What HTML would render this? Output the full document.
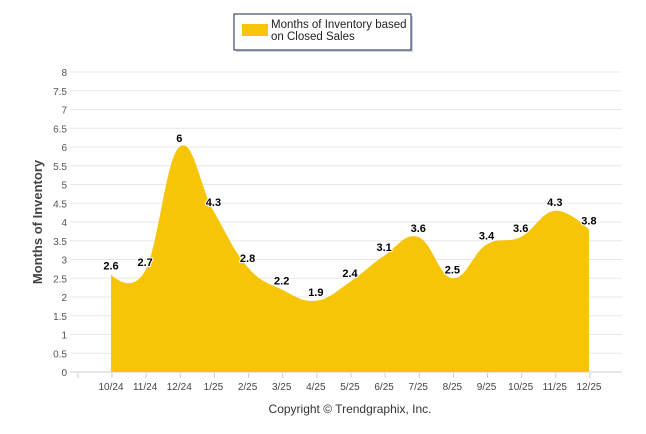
<!DOCTYPE html>
<html><head><meta charset="utf-8"><style>
body{margin:0;background:#fff;}
svg{display:block;font-family:"Liberation Sans",sans-serif;}
</style></head><body>
<svg width="646" height="434" id="chart">
<g>
<rect x="236" y="16" width="177" height="36" fill="#9aa" opacity="0.5"/>
<rect x="234" y="14" width="177" height="36" fill="#fff" stroke="#1c2a5a" stroke-width="1"/>
<rect x="242" y="24" width="26" height="12" fill="#f7c508"/>
<text x="271" y="28" font-size="11.5" fill="#222">Months of Inventory based</text>
<text x="271" y="40" font-size="11.5" fill="#222">on Closed Sales</text>
</g>
<g id="grid"></g>
<g id="area"></g>
<g id="xaxis"></g>
<g id="labels"></g>
<text transform="translate(42,222) rotate(-90)" text-anchor="middle" font-size="13" font-weight="bold" fill="#444">Months of Inventory</text>
<text x="350" y="413" text-anchor="middle" font-size="12" fill="#333">Copyright © Trendgraphix, Inc.</text>
</svg>
<script>
const categories=["10/24","11/24","12/24","1/25","2/25","3/25","4/25","5/25","6/25","7/25","8/25","9/25","10/25","11/25","12/25"];
const values=[2.6,2.7,6,4.3,2.8,2.2,1.9,2.4,3.1,3.6,2.5,3.4,3.6,4.3,3.8];
const yTicks=[0,0.5,1,1.5,2,2.5,3,3.5,4,4.5,5,5.5,6,6.5,7,7.5,8];
const NS="http://www.w3.org/2000/svg";
const x0=111,dx=34.14,yb=372,ppu=37.5;
const X=i=>x0+i*dx, Y=v=>yb-v*ppu;
function mk(t,a,p){const e=document.createElementNS(NS,t);for(const k in a)e.setAttribute(k,a[k]);p.appendChild(e);return e;}
const grid=document.getElementById('grid');
yTicks.forEach(t=>{
 const l=mk('line',{x1:70,x2:622,y1:Y(t),y2:Y(t),stroke:t===0?'#ccc':'#e8e8e8','stroke-width':1},grid);
 
 
 const tx=mk('text',{x:67,y:Y(t)+4,'text-anchor':'end','font-size':10,fill:'#555'},grid);
 tx.textContent=t;
 
 
});
const pts=values.map((v,i)=>[X(i),Y(v)]);
const sm=1.5;
let d=`M${pts[0][0]},${yb} L${pts[0][0]},${pts[0][1]}`;
function ctrl(i){
 const p=pts[i],a=pts[i-1],b=pts[i+1];
 if(!a||!b)return [p,p];
 let lx=(sm*p[0]+a[0])/(sm+1),ly=(sm*p[1]+a[1])/(sm+1),rx=(sm*p[0]+b[0])/(sm+1),ry=(sm*p[1]+b[1])/(sm+1);
 const c=ry!==ly?((ry-ly)*(rx-p[0]))/(rx-lx)+p[1]-ry:0;
 ly+=c;ry+=c;
 return [[lx,ly],[rx,ry]];
}
const cs=pts.map((p,i)=>ctrl(i));
for(let i=1;i<pts.length;i++){
 const c1=cs[i-1][1],c2=cs[i][0];
 d+=` C${c1[0]},${c1[1]} ${c2[0]},${c2[1]} ${pts[i][0]},${pts[i][1]}`;
}
d+=` L${pts[pts.length-1][0]},${yb} Z`;
const ar=mk('path',{d:d,fill:'#f7c508'},document.getElementById('area'));


const xa=document.getElementById('xaxis');
for(let i=-1;i<categories.length;i++){
 const tk=mk('line',{x1:X(i)+1,x2:X(i)+1,y1:373,y2:378,stroke:'#ccc'},xa);
 
 
}
const lb=document.getElementById('labels');
categories.forEach((c,i)=>{
 const t=mk('text',{x:X(i),y:390,'text-anchor':'middle','font-size':10,fill:'#444'},xa);
 t.textContent=c;
 
 
 const v=mk('text',{x:X(i),y:Y(values[i])-5,'text-anchor':'middle','font-size':11,'font-weight':'bold',fill:'#000',stroke:'#fff','stroke-width':2,'paint-order':'stroke'},lb);
 v.textContent=values[i];
 
 
});
</script>
</body></html>
